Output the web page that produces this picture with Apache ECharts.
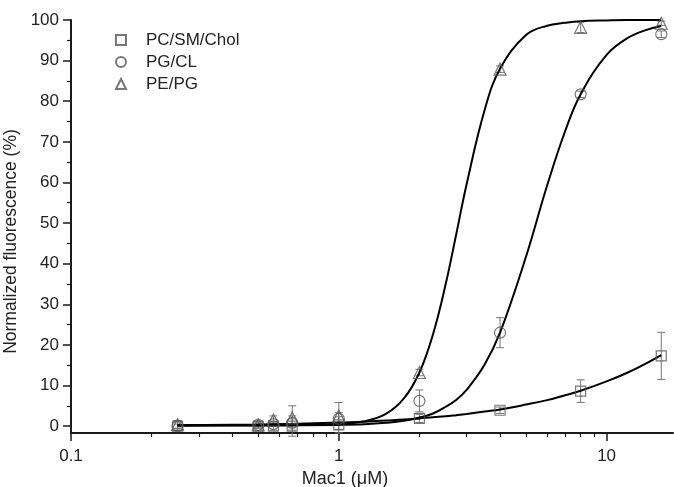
<!DOCTYPE html>
<html>
<head>
<meta charset="utf-8">
<script src="https://cdn.jsdelivr.net/npm/echarts@6/dist/echarts.min.js"></script>
<style>
html,body{margin:0;padding:0;background:#fff;}
#chart{width:674px;height:487px;}
</style>
</head>
<body>
<div id="chart"></div>
<script>
// ---- data ----
const concentrations = [0.25, 0.5, 0.57, 0.67, 1, 2, 4, 8, 16];
const seriesNames = ['PC/SM/Chol', 'PG/CL', 'PE/PG'];
const pcSmCholY   = [0, 0, 0, 0, 0.3, 1.9, 3.9, 8.6, 17.3];
const pcSmCholErr = [1, 0.5, 1, 2.5, 2, 1, 0.8, 2.8, 5.8];
const pgClY       = [0, 0.3, 0.5, 0.8, 1.8, 6.2, 23.0, 81.7, 96.5];
const pgClErr     = [0.5, 0.8, 0.5, 1, 1.5, 2.7, 3.7, 0.8, 0.8];
const pePgY       = [0.4, 0.3, 1.5, 2.0, 2.5, 13.2, 87.9, 98.2, 99.2];
const pePgErr     = [1, 0.5, 1, 3, 3.3, 0.8, 0.8, 1.3, 0.5];

const fitX        = [0.25, 0.5, 1, 1.25, 1.5, 1.75, 2, 2.25, 2.5, 2.75, 3, 3.5, 4, 5, 6, 7, 8, 10, 12, 14, 16];
const pcSmCholFit = [0.2, 0.4, 0.86, 1.1, 1.37, 1.6, 1.9, 2.2, 2.4, 2.7, 3.0, 3.6, 4.1, 5.3, 6.4, 7.6, 8.7, 11.0, 13.2, 15.4, 17.5];
const pgClFit     = [0.1, 0.15, 0.3, 0.45, 0.8, 1.3, 2.1, 3.1, 4.7, 6.5, 8.9, 15.1, 23.0, 41.7, 59.3, 72.6, 81.7, 91.4, 95.6, 97.5, 98.5];
const pePgFit     = [0.2, 0.2, 0.5, 1.2, 3.0, 6.8, 13.2, 22.7, 34.6, 47.5, 59.5, 77.7, 88.0, 96.3, 98.6, 99.3, 99.7, 99.9, 100, 100, 100];

const xMajorTicks = [0.1, 1, 10];
const xMinorTicks = [0.2, 0.3, 0.4, 0.5, 0.6, 0.7, 0.8, 0.9, 2, 3, 4, 5, 6, 7, 8, 9];
const yMajorTicks = [0, 10, 20, 30, 40, 50, 60, 70, 80, 90, 100];
const yMinorTicks = [5, 15, 25, 35, 45, 55, 65, 75, 85, 95];

// ---- build ----
const FONT = "'Liberation Sans', Arial, sans-serif";
const AXC = '#1a1a1a';
const MARK = '#555';
const ERRC = '#777';

function pairs(xs, ys) { return xs.map((x, i) => [x, ys[i]]); }
function errData(xs, ys, es) { return xs.map((x, i) => [x, ys[i] - es[i], ys[i] + es[i]]); }

function errorSeries(data) {
  return {
    type: 'custom',
    xAxisIndex: 0, yAxisIndex: 0,
    silent: true,
    z: 2,
    renderItem: function (params, api) {
      const x = api.value(0);
      const lo = api.coord([x, api.value(1)]);
      const hi = api.coord([x, api.value(2)]);
      const w = 4;
      const st = { stroke: ERRC, lineWidth: 1, fill: null };
      return {
        type: 'group',
        children: [
          { type: 'line', shape: { x1: lo[0], y1: lo[1], x2: hi[0], y2: hi[1] }, style: st },
          { type: 'line', shape: { x1: lo[0] - w, y1: lo[1], x2: lo[0] + w, y2: lo[1] }, style: st },
          { type: 'line', shape: { x1: hi[0] - w, y1: hi[1], x2: hi[0] + w, y2: hi[1] }, style: st }
        ]
      };
    },
    encode: { x: 0, y: [1, 2] },
    data: data
  };
}

function fitSeries(ys) {
  return {
    type: 'line', xAxisIndex: 0, yAxisIndex: 0,
    data: pairs(fitX, ys), smooth: 0.4, symbol: 'none', silent: true, z: 3,
    lineStyle: { color: '#000', width: 2 }
  };
}

function scatterSeries(name, symbol, size, ys) {
  return {
    name: name, type: 'scatter', xAxisIndex: 0, yAxisIndex: 0,
    symbol: symbol, symbolSize: size, z: 4,
    itemStyle: { color: 'rgba(255,255,255,0)', borderColor: MARK, borderWidth: 1.2 },
    data: pairs(concentrations, ys)
  };
}

const chart = echarts.init(document.getElementById('chart'), null, { renderer: 'canvas' });
chart.setOption({
  animation: false,
  backgroundColor: '#fff',
  textStyle: { fontFamily: FONT },
  grid: { left: 71, right: 1, top: 20, bottom: 54, containLabel: false, outerBoundsMode: 'none' },
  legend: {
    data: seriesNames,
    orient: 'vertical',
    left: 110, top: 25,
    itemWidth: 10, itemHeight: 10, itemGap: 2,
    textStyle: { fontFamily: FONT, fontSize: 17, color: '#222', lineHeight: 20, padding: [0, 0, 0, 15] }
  },
  xAxis: [
    {
      type: 'log', logBase: 10, min: 0.1, max: 17.7,
      name: 'Mac1 (\u03bcM)', nameLocation: 'middle', nameGap: 37,
      nameTextStyle: { fontFamily: FONT, fontSize: 18, color: '#222', padding: [0, 54, 0, 0] },
      axisLine: { show: true, onZero: false, lineStyle: { color: AXC, width: 2 } },
      axisTick: { show: true, inside: false, length: 8, customValues: xMajorTicks, lineStyle: { color: AXC, width: 1.5 } },
      axisLabel: { show: true, customValues: xMajorTicks, fontFamily: FONT, fontSize: 17, color: '#222', margin: 15,
        formatter: function (v) { return String(+v.toPrecision(3)); } },
      splitLine: { show: false }, minorTick: { show: false }
    },
    {
      type: 'log', logBase: 10, min: 0.1, max: 17.7, position: 'bottom',
      axisLine: { show: false, onZero: false },
      axisTick: { show: true, inside: false, length: 4, customValues: xMinorTicks, lineStyle: { color: AXC, width: 1.2 } },
      axisLabel: { show: false },
      splitLine: { show: false }
    }
  ],
  yAxis: [
    {
      type: 'value', min: -1.7, max: 100,
      name: 'Normalized fluorescence (%)', nameLocation: 'middle', nameGap: 44,
      nameTextStyle: { fontFamily: FONT, fontSize: 17.5, color: '#222', padding: [0, 30, 0, 0] },
      axisLine: { show: true, onZero: false, lineStyle: { color: AXC, width: 2 } },
      axisTick: { show: true, inside: false, length: 8, customValues: yMajorTicks, lineStyle: { color: AXC, width: 1.5 } },
      axisLabel: { show: true, customValues: yMajorTicks, fontFamily: FONT, fontSize: 17, color: '#222', margin: 12 },
      splitLine: { show: false }
    },
    {
      type: 'value', min: -1.7, max: 100, position: 'left',
      axisLine: { show: false, onZero: false },
      axisTick: { show: true, inside: false, length: 4, customValues: yMinorTicks, lineStyle: { color: AXC, width: 1.2 } },
      axisLabel: { show: false },
      splitLine: { show: false }
    }
  ],
  series: [
    errorSeries(errData(concentrations, pcSmCholY, pcSmCholErr)),
    errorSeries(errData(concentrations, pgClY, pgClErr)),
    errorSeries(errData(concentrations, pePgY, pePgErr)),
    fitSeries(pcSmCholFit),
    fitSeries(pgClFit),
    fitSeries(pePgFit),
    scatterSeries(seriesNames[0], 'rect', 10, pcSmCholY),
    scatterSeries(seriesNames[1], 'circle', 11, pgClY),
    scatterSeries(seriesNames[2], 'triangle', 12, pePgY)
  ]
});
</script>
</body>
</html>
